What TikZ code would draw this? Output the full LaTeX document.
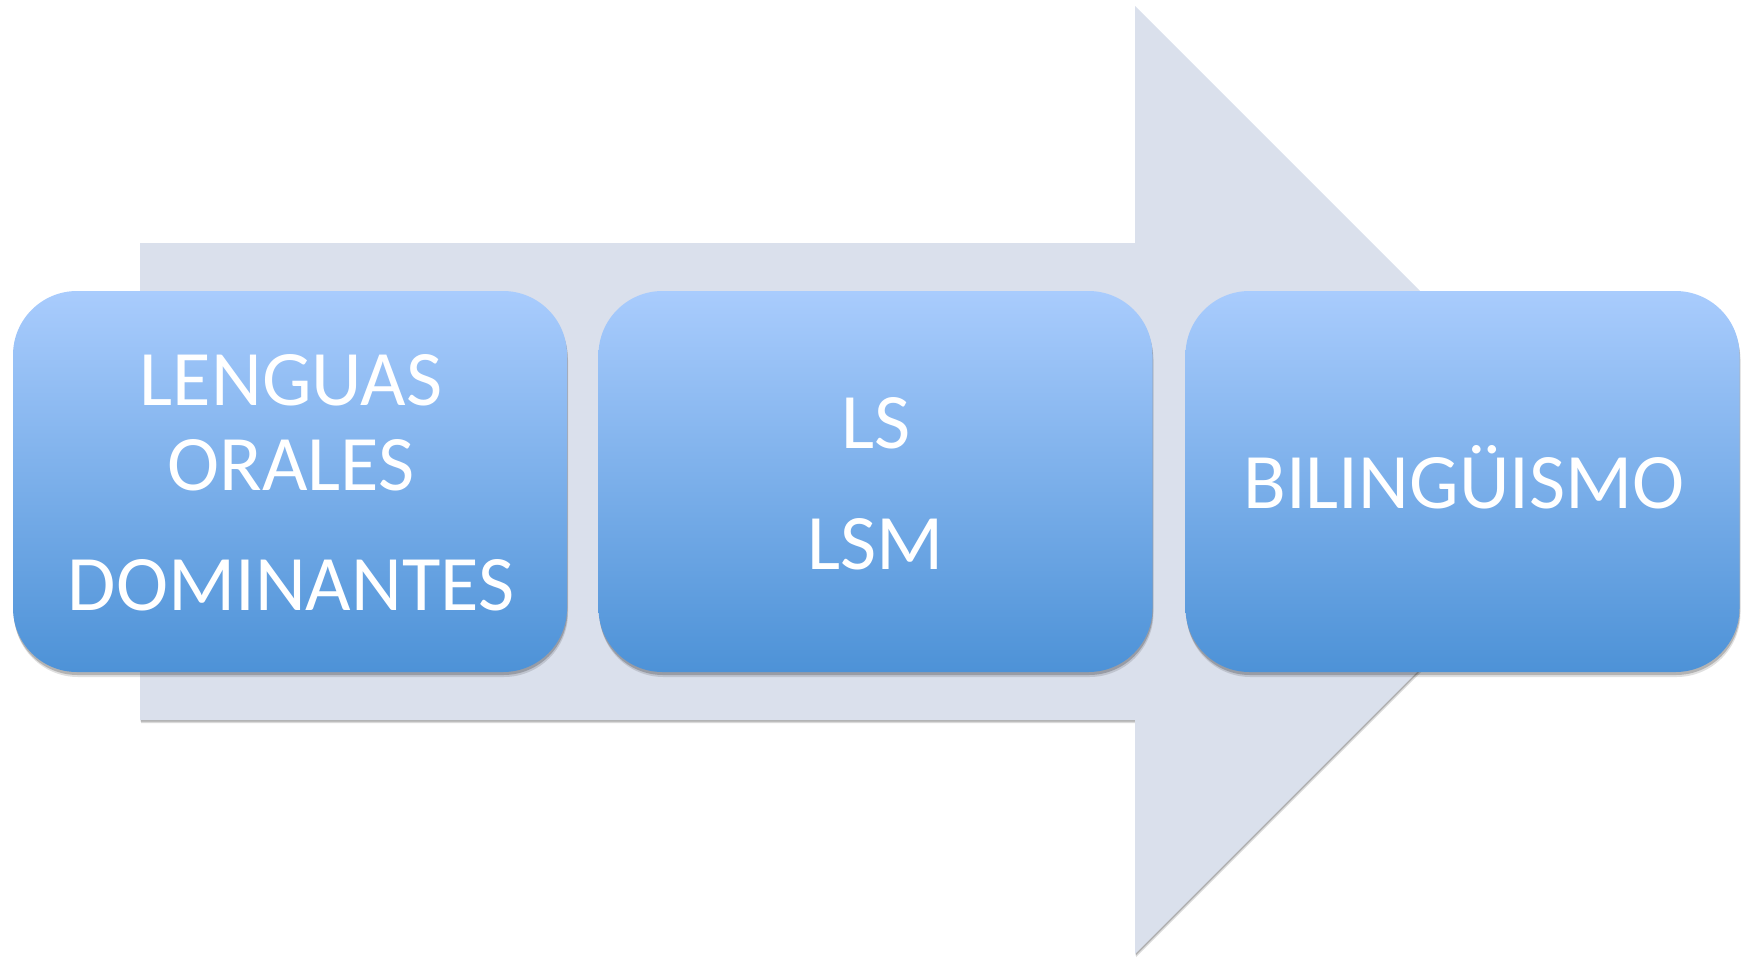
\documentclass[tikz,border=0pt]{standalone}
\usepackage{fontspec}
\setmainfont{Carlito}
\usetikzlibrary{shadows}
\definecolor{arrowfill}{HTML}{DAE0EC}
\definecolor{boxtop}{HTML}{A9CCFD}
\definecolor{boxbot}{HTML}{4D92D7}
\begin{document}
\begin{tikzpicture}[x=1pt,y=-1pt,
  stagebox/.style={rectangle, rounded corners=64pt, minimum width=554pt, minimum height=381pt,
    top color=boxtop, bottom color=boxbot, draw=none,
    general shadow={shadow xshift=1pt, shadow yshift=-5pt, opacity=0.12, fill=black},
    general shadow={shadow xshift=0.5pt, shadow yshift=-3pt, opacity=0.2, fill=black}},
  lbl/.style={text=white, anchor=base, inner sep=0pt, font=\fontsize{78.6}{94}\selectfont},
  arrowshape/.style={fill=arrowfill,
    general shadow={shadow xshift=1pt, shadow yshift=-3pt, opacity=0.15, fill=black},
    general shadow={shadow xshift=0.5pt, shadow yshift=-1.5pt, opacity=0.2, fill=black}}]
\useasboundingbox (0,0) rectangle (1753,959);
\path[arrowshape] (140,243) -- (1135,243) -- (1135,6) -- (1609,480) -- (1135,954) -- (1135,720) -- (140,720) -- cycle;
\node[stagebox] (b1) at (290,481.5) {};
\node[stagebox] (b2) at (875.5,481.5) {};
\node[stagebox] (b3) at (1462.5,481.5) {};
\node[lbl] (t1a) at (291,405.7) {LENGUAS};
\node[lbl] (t1b) at (291,490.7) {ORALES};
\node[lbl] (t1c) at (291,610.7) {DOMINANTES};
\node[lbl] (t2a) at (876,448) {LS};
\node[lbl] (t2b) at (876,569) {LSM};
\node[lbl] (t3a) at (1464,508) {BILINGÜISMO};
\end{tikzpicture}
\end{document}
